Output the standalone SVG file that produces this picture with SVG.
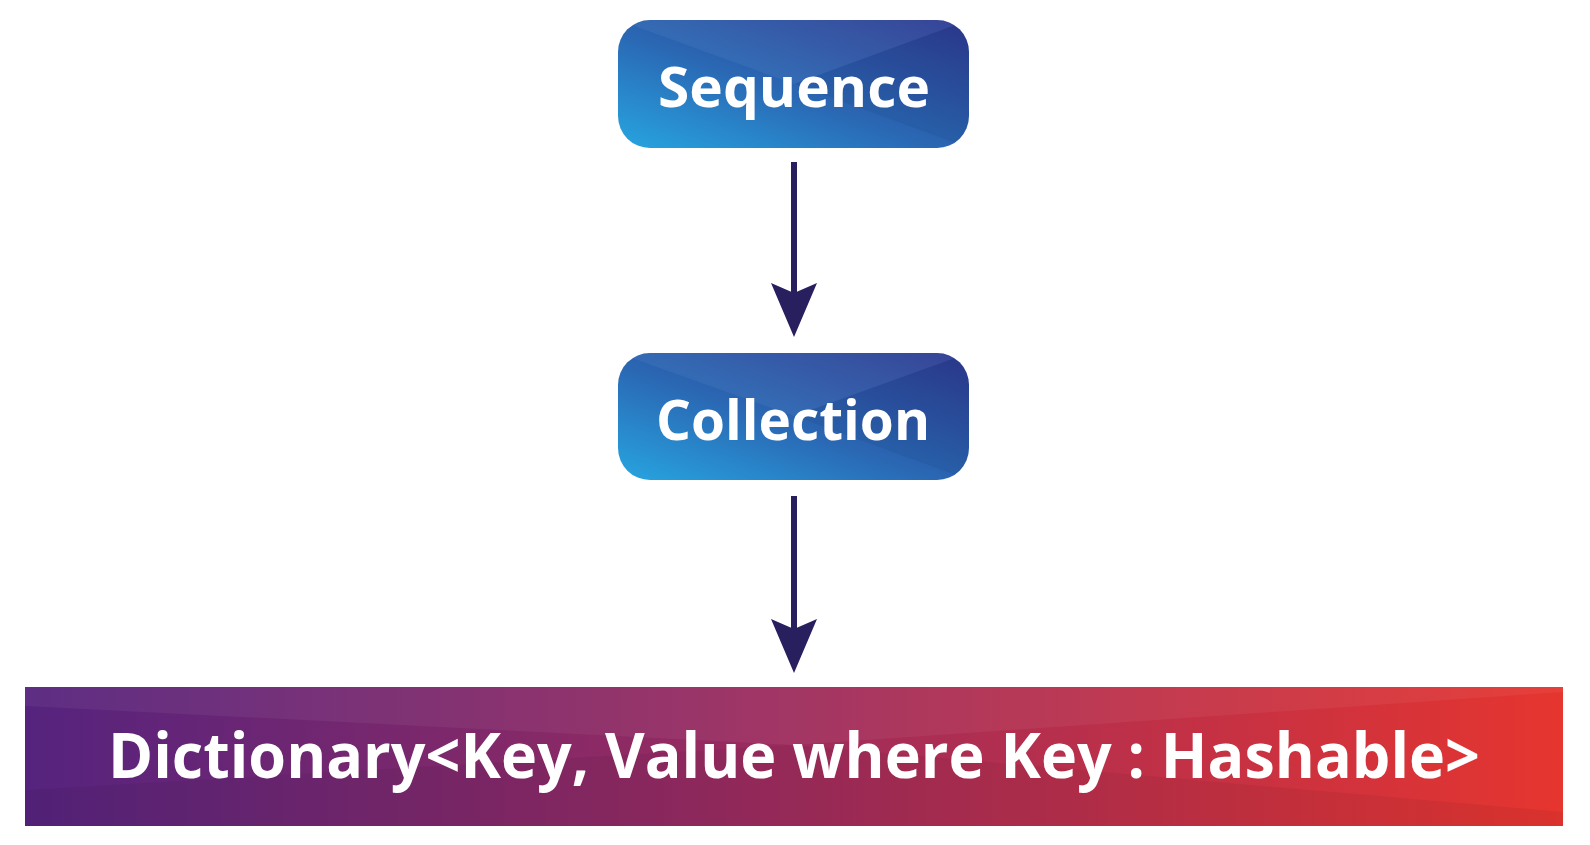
<svg xmlns="http://www.w3.org/2000/svg" width="1590" height="845" viewBox="0 0 1590 845">
<defs>
<linearGradient id="blue" x1="0" y1="1" x2="1" y2="0">
<stop offset="0" stop-color="#27a5e0"/>
<stop offset="0.45" stop-color="#2a68b4"/>
<stop offset="1" stop-color="#2d3990"/>
</linearGradient>
<linearGradient id="bar" x1="0" y1="0" x2="1" y2="0">
<stop offset="0" stop-color="#55237e"/>
<stop offset="0.5" stop-color="#9e2c5c"/>
<stop offset="1" stop-color="#e6352f"/>
</linearGradient>
<marker id="ah" viewBox="0 0 54 46" refX="10" refY="23" markerWidth="54" markerHeight="46" markerUnits="userSpaceOnUse" orient="auto">
<path d="M0,0 L10,23 L0,46 L54,23 Z" fill="#281f5f"/>
</marker>
</defs>
<style>
.lbl{font-family:"Open Sans","Liberation Sans",sans-serif;font-weight:700;fill:#ffffff;text-anchor:middle}
.conn{stroke:#281f5f;stroke-width:6;fill:none}
.sheen{fill:#ffffff;opacity:0.05}
.shade{fill:#000000;opacity:0.05}
</style>
<g id="connectors">
<path class="conn" d="M794,162 L794,293" marker-end="url(#ah)"/>
<path class="conn" d="M794,496 L794,629" marker-end="url(#ah)"/>
</g>
<g id="node-sequence">
<rect x="618" y="20" width="351" height="128" rx="32" fill="url(#blue)"/>
<clipPath id="c1"><rect x="618" y="20" width="351" height="128" rx="32"/></clipPath>
<g clip-path="url(#c1)">
<polygon class="sheen" points="618,20 969,20 794,84"/>
<polygon class="shade" points="969,20 969,148 794,84"/>
</g>
<text class="lbl" x="794" y="107" font-size="55" textLength="272" lengthAdjust="spacingAndGlyphs">Sequence</text>
</g>
<g id="node-collection">
<rect x="618" y="353" width="351" height="127" rx="32" fill="url(#blue)"/>
<clipPath id="c2"><rect x="618" y="353" width="351" height="127" rx="32"/></clipPath>
<g clip-path="url(#c2)">
<polygon class="sheen" points="618,353 969,353 794,416"/>
<polygon class="shade" points="969,353 969,480 794,416"/>
</g>
<text class="lbl" x="793" y="440" font-size="55" textLength="274" lengthAdjust="spacingAndGlyphs">Collection</text>
</g>
<g id="node-dictionary">
<rect x="25" y="687" width="1538" height="139" fill="url(#bar)"/>
<polygon class="sheen" points="25,687 1563,687 1563,692 794,745 25,706"/>
<polygon class="shade" points="25,826 25,790 794,745 1563,812 1563,826"/>
<text class="lbl" x="794" y="778" font-size="62" textLength="1372" lengthAdjust="spacingAndGlyphs">Dictionary&lt;Key, Value where Key : Hashable&gt;</text>
</g>
</svg>
